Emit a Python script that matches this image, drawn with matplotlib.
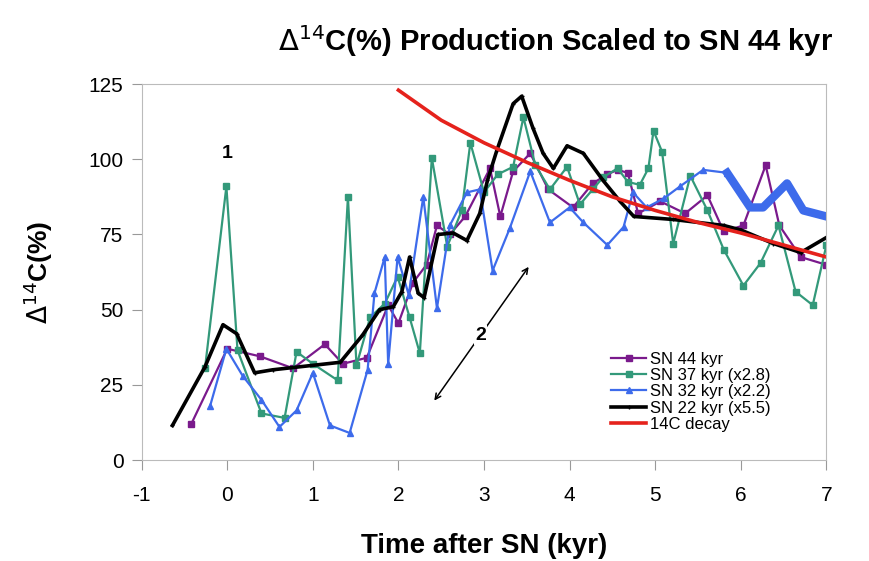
import matplotlib.pyplot as plt

plt.rcParams['font.family'] = ['Liberation Sans', 'DejaVu Sans']
plt.rcParams['axes.unicode_minus'] = False

# SN 44 kyr
t44 = [-0.42, 0.0, 0.38, 0.77, 1.14, 1.35, 1.63, 1.88, 2.0, 2.17, 2.33, 2.45, 2.6, 2.78,
       3.07, 3.19, 3.34, 3.54, 3.75, 4.04, 4.27, 4.44, 4.56, 4.68, 4.8, 5.06, 5.35,
       5.61, 5.8, 6.03, 6.29, 6.45, 6.7, 6.99]
v44 = [12, 37, 34.5, 30.5, 38.5, 32, 34, 51.5, 45.5, 59, 65, 78, 75, 81,
       97, 81, 96, 102, 90, 84, 92, 95, 96.5, 95.5, 82, 86, 82,
       88, 76, 78, 98, 78, 67.5, 65]

# SN 37 kyr (x2.8)
t37 = [-0.26, -0.01, 0.12, 0.4, 0.67, 0.81, 1.0, 1.29, 1.41, 1.51, 1.67, 1.84, 1.99,
       2.13, 2.25, 2.39, 2.57, 2.74, 2.84, 3.0, 3.16, 3.34, 3.46, 3.6, 3.77, 3.97,
       4.12, 4.27, 4.39, 4.56, 4.68, 4.82, 4.92, 4.98, 5.08, 5.21, 5.41, 5.61, 5.8,
       6.03, 6.23, 6.44, 6.64, 6.84, 7.0]
v37 = [30.5, 91, 36.5, 15.5, 14, 36, 32, 26.5, 87.5, 31.5, 47.5, 52, 61,
       47.5, 35.5, 100.5, 71, 83, 105.5, 89, 95, 97.5, 114, 98, 90, 97.5,
       85, 90, 94, 97, 92.5, 91.5, 97, 109.5, 102.5, 72, 94.5, 83, 70,
       58, 65.5, 78, 56, 51.5, 71.5]

# SN 32 kyr (x2.2)
t32 = [-0.2, -0.01, 0.18, 0.4, 0.61, 0.81, 1.0, 1.2, 1.43, 1.64, 1.72, 1.84, 1.88,
       1.99, 2.12, 2.29, 2.45, 2.6, 2.8, 2.95, 3.1, 3.3, 3.54, 3.77, 4.0, 4.16,
       4.44, 4.63, 4.74, 4.9, 5.1, 5.29, 5.56, 5.84]
v32 = [18, 37, 28, 20, 11, 16.5, 29, 11.5, 9, 30, 55.5, 67.5, 32,
       67.5, 55, 87.5, 50.5, 78, 89, 90, 63, 77, 96, 79, 84, 79,
       71.5, 77.5, 89, 84, 87, 91, 96.5, 95.5]
t32_tail = [5.84, 6.11, 6.26, 6.54, 6.73, 7.0]
v32_tail = [95.5, 84, 84, 92, 83, 81]

# SN 22 kyr (x5.5)
t22 = [-0.64, -0.26, -0.05, 0.11, 0.32, 0.53, 1.32, 1.58, 1.78, 1.94, 2.04, 2.13,
       2.23, 2.3, 2.46, 2.64, 2.8, 2.95, 3.04, 3.15, 3.34, 3.44, 3.57, 3.69, 3.81,
       3.97, 4.16, 4.39, 4.59, 4.75, 5.21, 5.8, 6.0, 6.38, 6.7, 7.0]
v22 = [11.5, 31, 45, 42, 29, 30, 32.5, 41.5, 50, 51, 56, 67.5,
       55.5, 54, 75, 75.5, 73, 82, 93, 103, 118.5, 121, 110.5, 102, 97,
       104.5, 102, 93, 86, 81, 80, 78, 76.5, 72, 69, 74]

# 14C decay
tdec = [2.0, 2.5, 3.0, 3.5, 4.0, 4.5, 5.0, 5.5, 6.0, 6.5, 7.0]
vdec = [123, 113, 105.5, 99, 93, 87.5, 83, 79, 75.5, 71.5, 67.5]

fig = plt.figure(figsize=(8.69, 5.61), dpi=100)
ax = fig.add_axes([0.163, 0.18, 0.788, 0.67])

purple = '#7A1A8C'
green = '#33997A'
blue = '#3D6BEB'

ax.plot(t44, v44, color=purple, marker='s', markersize=5, lw=1.6, label='SN 44 kyr')
ax.plot(t37, v37, color=green, marker='s', markersize=4.5, lw=1.6, label='SN 37 kyr (x2.8)')
ax.plot(t32, v32, color=blue, marker='^', markersize=4, lw=1.6, label='SN 32 kyr (x2.2)')
ax.plot(t32_tail, v32_tail, color=blue, lw=6, solid_joinstyle='round')
ax.plot(t22, v22, color='black', marker='+', markersize=3, lw=2.6, label='SN 22 kyr (x5.5)')
ax.plot(tdec, vdec, color='#E5221C', lw=2.6, label='14C decay')

ax.set_xlim(-1, 7)
ax.set_ylim(0, 125)
ax.set_xticks(range(-1, 8))
ax.set_yticks([0, 25, 50, 75, 100, 125])
ax.tick_params(labelsize=15, color='#999999', length=7)
ax.tick_params(axis='x', pad=12)
ax.tick_params(axis='y', pad=6)
for s in ax.spines.values():
    s.set_color('#BBBBBB')

ax.text(0, 102, '1', fontsize=14, fontweight='bold', ha='center', va='center')
ax.annotate('', xy=(2.4, 19), xytext=(3.54, 65),
            arrowprops=dict(arrowstyle='<->', color='black', lw=1.1))
ax.text(2.96, 41.5, '2', fontsize=14, fontweight='bold', ha='center', va='center',
        bbox=dict(facecolor='white', edgecolor='none', pad=1))

ax.set_title('$\\Delta^{14}$C(%) Production Scaled to SN 44 kyr',
             fontsize=21, fontweight='bold', pad=24, x=0.604)
ax.set_ylabel('$\\Delta^{14}$C(%)', fontsize=19, fontweight='bold', labelpad=24)
ax.set_xlabel('Time after SN (kyr)', fontsize=20, fontweight='bold', labelpad=20)

ax.legend(loc='lower right', bbox_to_anchor=(0.94, 0.035), frameon=False, fontsize=12,
          handlelength=2.1, handletextpad=0.2, labelspacing=0.08)

fig.savefig('out.png', dpi=100)
